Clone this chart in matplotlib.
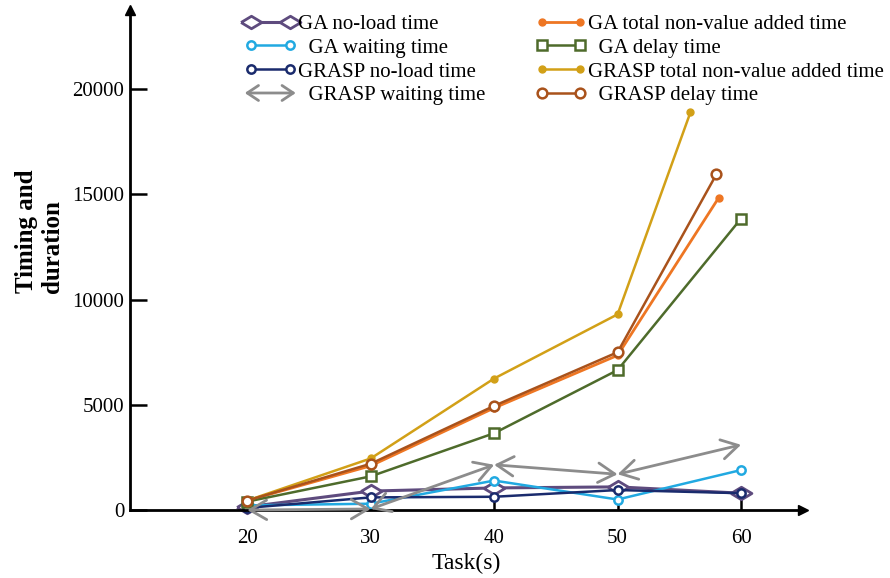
import matplotlib.pyplot as plt
from matplotlib.lines import Line2D
from matplotlib.patches import FancyArrowPatch
from matplotlib.legend_handler import HandlerBase

plt.rcParams['font.family'] = ['Liberation Serif', 'DejaVu Serif']

tasks = [20, 30, 40, 50, 60]
ga_noload = [150, 900, 1050, 1100, 800]
ga_wait = [220, 300, 1400, 500, 1900]
grasp_noload = [100, 600, 630, 950, 800]
grasp_wait = [0, 50, 2150, 1700, 3100]
ga_total_x = [20, 30, 40, 50, 58.2]
ga_total = [450, 2100, 4850, 7350, 14850]
ga_delay = [400, 1600, 3650, 6650, 13850]
grasp_total_x = [20, 30, 40, 50, 55.9]
grasp_total = [450, 2450, 6250, 9300, 18900]
grasp_delay_x = [20, 30, 40, 50, 58]
grasp_delay = [450, 2200, 4950, 7500, 15950]

c_ga_noload = "#5E4B7E"
c_ga_wait = "#21A9E1"
c_grasp_noload = "#1A2B6D"
c_grasp_wait = "#8C8C8C"
c_ga_total = "#EE7623"
c_ga_delay = "#4E6B2B"
c_grasp_total = "#D2A017"
c_grasp_delay = "#A9521B"

# flat diamond like the original
flat_diamond = [(-1, 0), (0, 0.6), (1, 0), (0, -0.6), (-1, 0)]


class ArrowHandler(HandlerBase):
    def create_artists(self, legend, orig_handle, xdescent, ydescent,
                       width, height, fontsize, trans):
        y = height / 2 - ydescent
        arr = FancyArrowPatch((-xdescent, y), (width - xdescent, y),
                              arrowstyle='<->,head_length=0.45,head_width=0.3',
                              mutation_scale=18, color=orig_handle.get_color(),
                              lw=2, shrinkA=0, shrinkB=0, transform=trans)
        return [arr]


fig = plt.figure(figsize=(8.9, 5.78), dpi=100)
ax = fig.add_axes([0.146, 0.1176, 0.756, 0.865])

h1, = ax.plot(tasks, ga_noload, color=c_ga_noload, lw=2.2, marker=flat_diamond, ms=15,
              mfc='white', mew=2, label='GA no-load time', clip_on=False)
h2, = ax.plot(tasks, ga_wait, color=c_ga_wait, lw=1.8, marker='o', ms=6,
              mfc='white', mew=1.8, label='  GA waiting time', clip_on=False)
h3, = ax.plot(tasks, grasp_noload, color=c_grasp_noload, lw=1.8, marker='o', ms=6,
              mfc='white', mew=1.8, label='GRASP no-load time', clip_on=False)
for i in range(len(tasks) - 1):
    ax.annotate('', xy=(tasks[i + 1], grasp_wait[i + 1]), xytext=(tasks[i], grasp_wait[i]),
                arrowprops=dict(arrowstyle='<->,head_length=0.6,head_width=0.35',
                                color=c_grasp_wait, lw=2, mutation_scale=20,
                                shrinkA=0, shrinkB=0),
                annotation_clip=False)
h4 = Line2D([], [], color=c_grasp_wait, lw=2, label='  GRASP waiting time')
h5, = ax.plot(ga_total_x, ga_total, color=c_ga_total, lw=2, marker='o', ms=5,
              label='GA total non-value added time', clip_on=False)
h6, = ax.plot(tasks, ga_delay, color=c_ga_delay, lw=1.8, marker='s', ms=6.5,
              mfc='white', mew=1.8, label='  GA delay time', clip_on=False)
h7, = ax.plot(grasp_total_x, grasp_total, color=c_grasp_total, lw=1.8, marker='o', ms=5,
              label='GRASP total non-value added time', clip_on=False)
h8, = ax.plot(grasp_delay_x, grasp_delay, color=c_grasp_delay, lw=1.8, marker='o', ms=7,
              mfc='white', mew=1.8, label='  GRASP delay time', clip_on=False)

ax.set_xlim(10.5, 65)
ax.set_ylim(0, 23760)
ax.set_xticks(tasks)
ax.set_yticks([0, 5000, 10000, 15000, 20000])

for s in ['top', 'right']:
    ax.spines[s].set_visible(False)
for s in ['left', 'bottom']:
    ax.spines[s].set_linewidth(2)
ax.plot(1, 0, '>k', ms=7, transform=ax.transAxes, clip_on=False)
ax.plot(0, 1, '^k', ms=7, transform=ax.transAxes, clip_on=False)

ax.tick_params(axis='x', direction='in', length=10, width=1.8, pad=14, labelsize=15)
ax.tick_params(axis='y', direction='in', length=12, width=1.8, pad=4, labelsize=15)

ax.set_xlabel('Task(s)', fontsize=17, labelpad=3)
fig.text(0.044, 0.6, 'Timing and\nduration', rotation=90, ha='center', va='center',
         multialignment='left', fontsize=18, fontweight='bold', linespacing=1.15)

fig.legend(handles=[h1, h2, h3, h4, h5, h6, h7, h8], ncol=2, frameon=False,
           loc='upper left', bbox_to_anchor=(0.275, 0.975), fontsize=15,
           numpoints=2, handlelength=2.45, handletextpad=0.1, labelspacing=0.2,
           columnspacing=2.4, borderpad=0, borderaxespad=0,
           handler_map={h4: ArrowHandler()})

fig.savefig('out.png', dpi=100)
